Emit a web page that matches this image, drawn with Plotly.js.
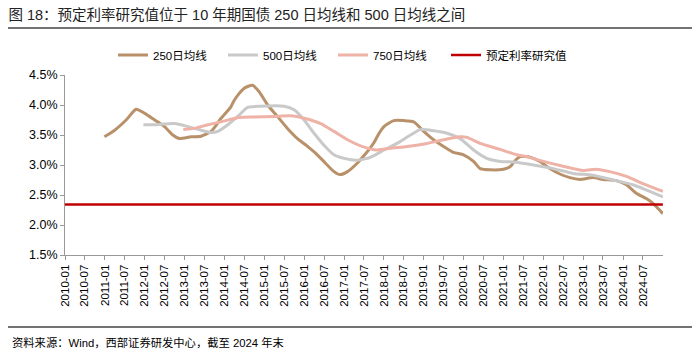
<!DOCTYPE html>
<html>
<head>
<meta charset="utf-8">
<script src="https://cdn.plot.ly/plotly-3.0.1.min.js"></script>
<style>
html,body{margin:0;padding:0;background:#fff;}
#chart{width:700px;height:359px;}
</style>
</head>
<body>
<div id="chart"></div>
<script>
// 250日均线
const ma250Dates = ["2010-12-28","2011-04-01","2011-07-15","2011-10-15","2012-01-01","2012-04-01","2012-07-01","2012-09-15","2012-11-15","2013-03-01","2013-06-01","2013-09-01","2013-12-01","2014-03-01","2014-04-01","2014-05-15","2014-07-01","2014-09-15","2014-11-15","2015-02-01","2015-05-01","2015-08-01","2015-11-01","2016-02-01","2016-05-01","2016-07-15","2016-10-01","2016-11-25","2017-02-01","2017-05-01","2017-08-01","2017-10-01","2017-11-15","2018-01-01","2018-04-01","2018-07-01","2018-10-01","2019-01-01","2019-04-01","2019-07-01","2019-10-01","2020-01-01","2020-04-01","2020-06-01","2020-09-01","2021-01-01","2021-03-01","2021-04-20","2021-06-01","2021-09-01","2021-12-01","2022-03-01","2022-06-01","2022-09-01","2022-12-01","2023-04-01","2023-07-01","2023-11-01","2024-02-01","2024-05-01","2024-08-01","2024-10-01","2024-12-31"];
const ma250Vals = [3.47,3.58,3.75,3.93,3.86,3.75,3.64,3.50,3.44,3.47,3.48,3.56,3.78,3.97,4.08,4.19,4.28,4.33,4.22,4.00,3.81,3.61,3.44,3.31,3.17,3.03,2.89,2.84,2.89,3.03,3.22,3.37,3.52,3.64,3.74,3.74,3.72,3.56,3.42,3.31,3.21,3.17,3.06,2.94,2.92,2.93,2.97,3.08,3.14,3.13,3.06,2.94,2.85,2.79,2.76,2.79,2.76,2.74,2.67,2.53,2.44,2.36,2.19];

// 500日均线
const ma500Dates = ["2011-12-20","2012-04-01","2012-10-01","2013-02-01","2013-06-01","2013-09-01","2013-11-01","2014-02-01","2014-05-15","2014-08-01","2014-12-01","2015-07-01","2015-10-01","2016-01-01","2016-04-01","2016-07-01","2016-10-01","2017-01-01","2017-05-01","2017-08-01","2017-10-15","2018-01-01","2018-05-01","2018-09-01","2018-12-01","2019-04-01","2019-08-01","2019-12-01","2020-04-01","2020-08-01","2020-12-01","2021-04-01","2021-10-01","2022-04-01","2022-10-01","2023-04-01","2023-10-01","2024-04-01","2024-09-01","2024-12-31"];
const ma500Vals = [3.67,3.67,3.69,3.64,3.58,3.54,3.56,3.67,3.83,3.96,3.98,3.98,3.92,3.75,3.53,3.33,3.17,3.11,3.08,3.11,3.17,3.25,3.36,3.50,3.59,3.57,3.53,3.44,3.25,3.11,3.06,3.05,3.00,2.94,2.86,2.83,2.75,2.67,2.56,2.47];

// 750日均线
const ma750Dates = ["2012-12-20","2013-04-01","2013-08-01","2013-12-01","2014-05-15","2014-10-01","2015-04-01","2015-09-01","2016-01-01","2016-06-01","2016-10-01","2017-02-01","2017-06-01","2017-11-01","2018-03-01","2018-08-01","2019-02-01","2019-07-01","2019-12-01","2020-02-01","2020-06-01","2020-12-01","2021-05-01","2021-08-01","2022-01-01","2022-07-01","2023-01-01","2023-05-01","2023-09-01","2024-02-01","2024-07-01","2024-12-31"];
const ma750Vals = [3.59,3.61,3.67,3.72,3.79,3.80,3.81,3.82,3.78,3.69,3.56,3.42,3.32,3.25,3.28,3.31,3.36,3.42,3.47,3.46,3.36,3.26,3.17,3.14,3.06,2.98,2.91,2.93,2.89,2.81,2.69,2.56];

// 预定利率研究值
const rateDates = ["2010-01-01","2024-12-31"];
const rateVals = [2.34,2.34];

const seriesNames = ["250日均线","500日均线","750日均线","预定利率研究值"];
const yTickVals = [1.5,2.0,2.5,3.0,3.5,4.0,4.5];
const yTickText = ["1.5%","2.0%","2.5%","3.0%","3.5%","4.0%","4.5%"];
const xTickVals = [];
for (let y = 2010; y <= 2024; y++) { xTickVals.push(y + "-01-01"); xTickVals.push(y + "-07-01"); }
const titleText = "图 18：预定利率研究值位于 10 年期国债 250 日均线和 500 日均线之间";
const sourceText = "资料来源：Wind，西部证券研发中心，截至 2024 年末";

const FONT = "'Liberation Sans', Arial, 'Noto Sans CJK SC', sans-serif";

const traces = [
  {x: ma250Dates, y: ma250Vals, name: seriesNames[0], type: "scatter", mode: "lines",
   line: {color: "#B8916A", width: 3, shape: "spline", smoothing: 0.6}},
  {x: ma500Dates, y: ma500Vals, name: seriesNames[1], type: "scatter", mode: "lines",
   line: {color: "#C9C9C9", width: 3, shape: "spline", smoothing: 0.6}},
  {x: ma750Dates, y: ma750Vals, name: seriesNames[2], type: "scatter", mode: "lines",
   line: {color: "#EFB2A6", width: 3, shape: "spline", smoothing: 0.6}},
  {x: rateDates, y: rateVals, name: seriesNames[3], type: "scatter", mode: "lines",
   legend: "legend2", line: {color: "#C00000", width: 2.5}}
];

const L = 65, W = 598, T = 75, H = 180;
const px = v => (v - L) / W;
const py = v => (T + H - v) / H;

const legendFont = {family: FONT, size: 11.5, color: "#000"};

const layout = {
  width: 700, height: 359,
  margin: {l: L, r: 700 - L - W, t: T, b: 359 - T - H, pad: 0},
  paper_bgcolor: "#fff", plot_bgcolor: "#fff",
  font: {family: FONT, size: 12, color: "#000"},
  showlegend: true,
  title: {text: titleText, x: 0.012, xanchor: "left", y: 1 - 15/359, yanchor: "middle",
          font: {family: FONT, size: 14.5, color: "#222"}},
  legend: {orientation: "h", x: px(113), xanchor: "left", y: py(55), yanchor: "middle",
           font: legendFont, entrywidth: 65, itemwidth: 30,
           bgcolor: "rgba(0,0,0,0)", tracegroupgap: 0},
  legend2: {orientation: "h", x: px(446), xanchor: "left", y: py(55), yanchor: "middle",
           font: legendFont, itemwidth: 30, bgcolor: "rgba(0,0,0,0)"},
  xaxis: {type: "date", range: ["2010-01-01", "2025-01-01"], tickvals: xTickVals,
          tickformat: "%Y-%m", tickangle: -90, ticks: "outside", ticklen: 4, tickcolor: "#999",
          showline: true, linecolor: "#999", linewidth: 1, showgrid: false, zeroline: false,
          tickfont: {family: FONT, size: 11.5, color: "#000"}, fixedrange: true},
  yaxis: {range: [1.5, 4.5], tickvals: yTickVals, ticktext: yTickText, ticks: "outside",
          ticklen: 4, tickcolor: "#999", showline: true, linecolor: "#999", linewidth: 1,
          showgrid: false, zeroline: false, tickfont: {family: FONT, size: 12.5, color: "#000"},
          fixedrange: true},
  shapes: [
    {type: "line", xref: "paper", yref: "paper", x0: px(8), x1: px(692), y0: py(28), y1: py(28),
     line: {color: "#444", width: 1.5}},
    {type: "line", xref: "paper", yref: "paper", x0: px(8), x1: px(692), y0: py(327), y1: py(327),
     line: {color: "#444", width: 1.5}}
  ],
  annotations: [
    {text: sourceText, xref: "paper", yref: "paper", x: px(10), y: py(342), xanchor: "left",
     yanchor: "middle", showarrow: false, font: {family: FONT, size: 11.3, color: "#000"}}
  ]
};

Plotly.newPlot("chart", traces, layout, {displayModeBar: false, staticPlot: true});
</script>
</body>
</html>
